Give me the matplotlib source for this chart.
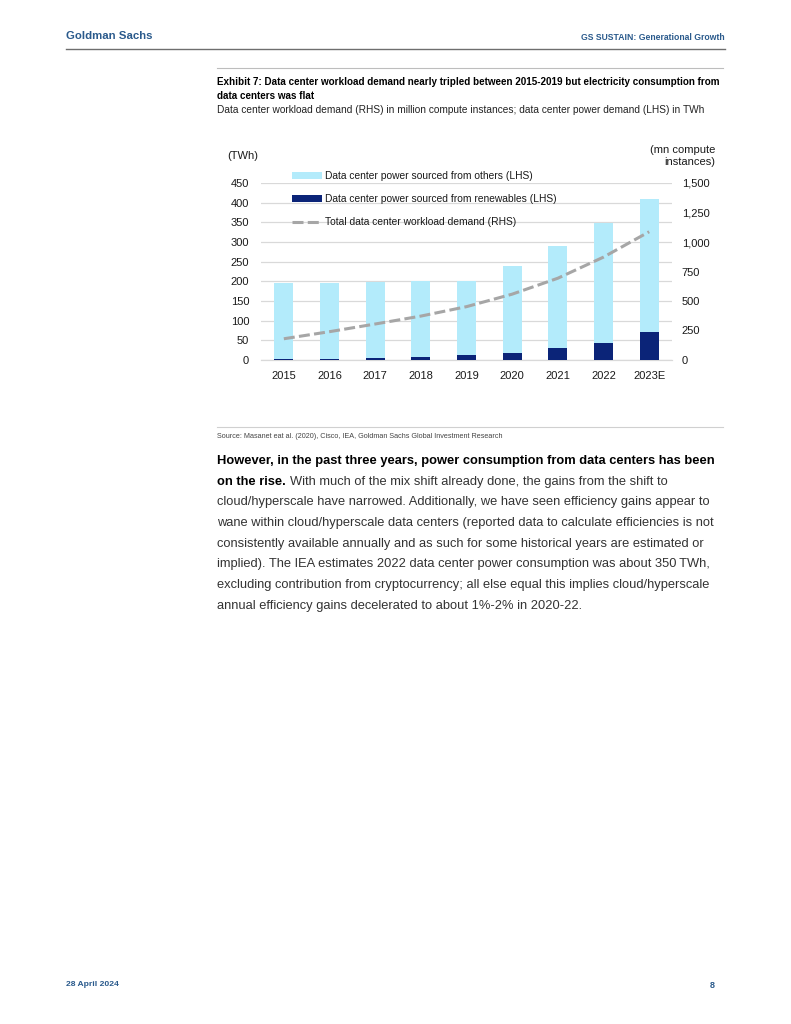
import matplotlib
matplotlib.use("Agg")
import matplotlib.pyplot as plt
from matplotlib.lines import Line2D
from matplotlib.patches import Patch
import numpy as np

# ---------------- data ----------------
years = ['2015', '2016', '2017', '2018', '2019', '2020', '2021', '2022', '2023E']
renewables_twh = [2, 3, 6, 8, 12, 19, 31, 44, 71]
others_twh = [195, 194, 193, 192, 188, 220, 259, 304, 339]
workload_mn = [180, 240, 305, 372, 452, 558, 693, 872, 1087]
left_ticks = [0, 50, 100, 150, 200, 250, 300, 350, 400, 450]
right_ticks = [0, 250, 500, 750, 1000, 1250, 1500]

W, H = 791, 1024
fig = plt.figure(figsize=(W / 100, H / 100), dpi=100)

def fx(x):
    return x / W

def fy(y):
    return 1 - y / H

NARROW = ['Liberation Sans Narrow', 'Liberation Sans', 'DejaVu Sans']
ARIAL = ['Liberation Sans', 'DejaVu Sans']
GS_BLUE = '#2A5A8C'

# ---------------- header / footer ----------------
fig.text(fx(66), fy(36), 'Goldman Sachs', fontsize=8.2, fontweight='bold',
         family=NARROW, color=GS_BLUE, va='center', ha='left')
fig.text(fx(725), fy(37), 'GS SUSTAIN: Generational Growth', fontsize=6.2, fontweight='bold',
         family=NARROW, color=GS_BLUE, va='center', ha='right')
fig.add_artist(Line2D([fx(66), fx(725)], [fy(49), fy(49)], color='#6E6E6E', lw=1.0))
fig.text(fx(66), fy(985), '28 April 2024', fontsize=6.1, fontweight='bold',
         family=NARROW, color=GS_BLUE, va='center', ha='left')
fig.text(fx(715), fy(985), '8', fontsize=6.5, fontweight='bold',
         family=NARROW, color=GS_BLUE, va='center', ha='right')

# ---------------- exhibit title ----------------
fig.add_artist(Line2D([fx(217), fx(723)], [fy(68), fy(68)], color='#BDBDBD', lw=0.8))
fig.text(fx(217), fy(82), 'Exhibit 7: Data center workload demand nearly tripled between 2015-2019 but electricity consumption from',
         fontsize=7.1, fontweight='bold', family=NARROW, color='black', va='center', ha='left')
fig.text(fx(217), fy(96), 'data centers was flat',
         fontsize=7.1, fontweight='bold', family=NARROW, color='black', va='center', ha='left')
fig.text(fx(217), fy(110), 'Data center workload demand (RHS) in million compute instances; data center power demand (LHS) in TWh',
         fontsize=7.3, family=NARROW, color='#222222', va='center', ha='left')

# ---------------- chart ----------------
ax = fig.add_axes([fx(261), fy(360), (672 - 261) / W, (360 - 183) / H])
x = np.arange(len(years))
LIGHT = '#B3EBFB'
NAVY = '#0B2478'
bw = 0.41
ax.bar(x, renewables_twh, width=bw, color=NAVY, zorder=3,
       label='Data center power sourced from renewables (LHS)')
ax.bar(x, others_twh, width=bw, bottom=renewables_twh, color=LIGHT, zorder=3,
       label='Data center power sourced from others (LHS)')
ax.set_xlim(-0.5, len(years) - 0.5)
ax.set_ylim(0, 450)
ax.set_yticks(left_ticks)
ax.set_yticklabels([str(v) for v in left_ticks])
ax.set_xticks(x)
ax.set_xticklabels(years)
ax.grid(axis='y', color='#D9D9D9', lw=0.9, zorder=0)
ax.set_axisbelow(True)
for s in ['top', 'right', 'left']:
    ax.spines[s].set_visible(False)
ax.spines['bottom'].set_color('#D9D9D9')
ax.spines['bottom'].set_linewidth(0.9)
ax.tick_params(axis='y', length=0, pad=8.5, labelsize=8, colors='#1a1a1a')
ax.tick_params(axis='x', length=0, pad=8, labelsize=8, colors='#1a1a1a')
for lab in ax.get_xticklabels() + ax.get_yticklabels():
    lab.set_family(ARIAL)

ax2 = ax.twinx()
ax2.plot(x, workload_mn, color='#A6A6A6', lw=2.2, dashes=(3.6, 1.4), zorder=4,
         label='Total data center workload demand (RHS)')
ax2.set_ylim(0, 1500)
ax2.set_yticks(right_ticks)
ax2.set_yticklabels([f'{v:,}' for v in right_ticks])
for s in ['top', 'right', 'left', 'bottom']:
    ax2.spines[s].set_visible(False)
ax2.tick_params(axis='y', length=0, pad=7, labelsize=8, colors='#1a1a1a')
for lab in ax2.get_yticklabels():
    lab.set_family(ARIAL)

fig.text(fx(227), fy(156), '(TWh)', fontsize=8, family=ARIAL, color='#1a1a1a', va='center', ha='left')
fig.text(fx(715), fy(156), '(mn compute\ninstances)', fontsize=8, family=ARIAL, color='#1a1a1a',
         va='center', ha='right', multialignment='right', linespacing=1.25)

handles = [Patch(facecolor=LIGHT, edgecolor='none'),
           Patch(facecolor=NAVY, edgecolor='none'),
           Line2D([0], [0], color='#A6A6A6', lw=2.2, dashes=(3.6, 1.4))]
labels = ['Data center power sourced from others (LHS)',
          'Data center power sourced from renewables (LHS)',
          'Total data center workload demand (RHS)']
leg = ax2.legend(handles, labels, loc='upper left', bbox_to_anchor=(fx(292), fy(171)),
                 bbox_transform=fig.transFigure, frameon=False, fontsize=7.4,
                 handlelength=2.9, handleheight=0.6, handletextpad=0.35,
                 labelspacing=1.28, borderpad=0, borderaxespad=0)
for t in leg.get_texts():
    t.set_family(ARIAL)
    t.set_color('#1a1a1a')

# ---------------- source ----------------
fig.add_artist(Line2D([fx(217), fx(723)], [fy(427), fy(427)], color='#D0D0D0', lw=0.8))
fig.text(fx(217), fy(437), 'Source: Masanet eat al. (2020), Cisco, IEA, Goldman Sachs Global Investment Research',
         fontsize=5.2, family=NARROW, color='#444444', va='center', ha='left')

# ---------------- body text ----------------
BODY = ['Liberation Sans', 'DejaVu Sans']
bfs = 9.3
body_lines = [
    'cloud/hyperscale have narrowed. Additionally, we have seen efficiency gains appear to',
    'wane within cloud/hyperscale data centers (reported data to calculate efficiencies is not',
    'consistently available annually and as such for some historical years are estimated or',
    'implied). The IEA estimates 2022 data center power consumption was about 350\u2009TWh,',
    'excluding contribution from cryptocurrency; all else equal this implies cloud/hyperscale',
    'annual efficiency gains decelerated to about 1%-2% in 2020-22.',
]
y0 = 461
pitch = 20.7
fig.text(fx(217), fy(y0), 'However, in the past three years, power consumption from data centers has been',
         fontsize=bfs, fontweight='bold', family=BODY, color='black', va='center', ha='left')
t_bold = fig.text(fx(217), fy(y0 + pitch), 'on the rise.', fontsize=bfs, fontweight='bold',
                  family=BODY, color='black', va='center', ha='left')
fig.canvas.draw()
bb = t_bold.get_window_extent()
fig.text(bb.x1 / W + 4 / W, fy(y0 + pitch),
         'With much of the mix shift already done, the gains from the shift to',
         fontsize=bfs, family=BODY, color='#333333', va='center', ha='left')
for i, line in enumerate(body_lines):
    fig.text(fx(217), fy(y0 + pitch * (i + 2)), line, fontsize=bfs, family=BODY,
             color='#333333', va='center', ha='left')

fig.savefig('out.png', dpi=100)
